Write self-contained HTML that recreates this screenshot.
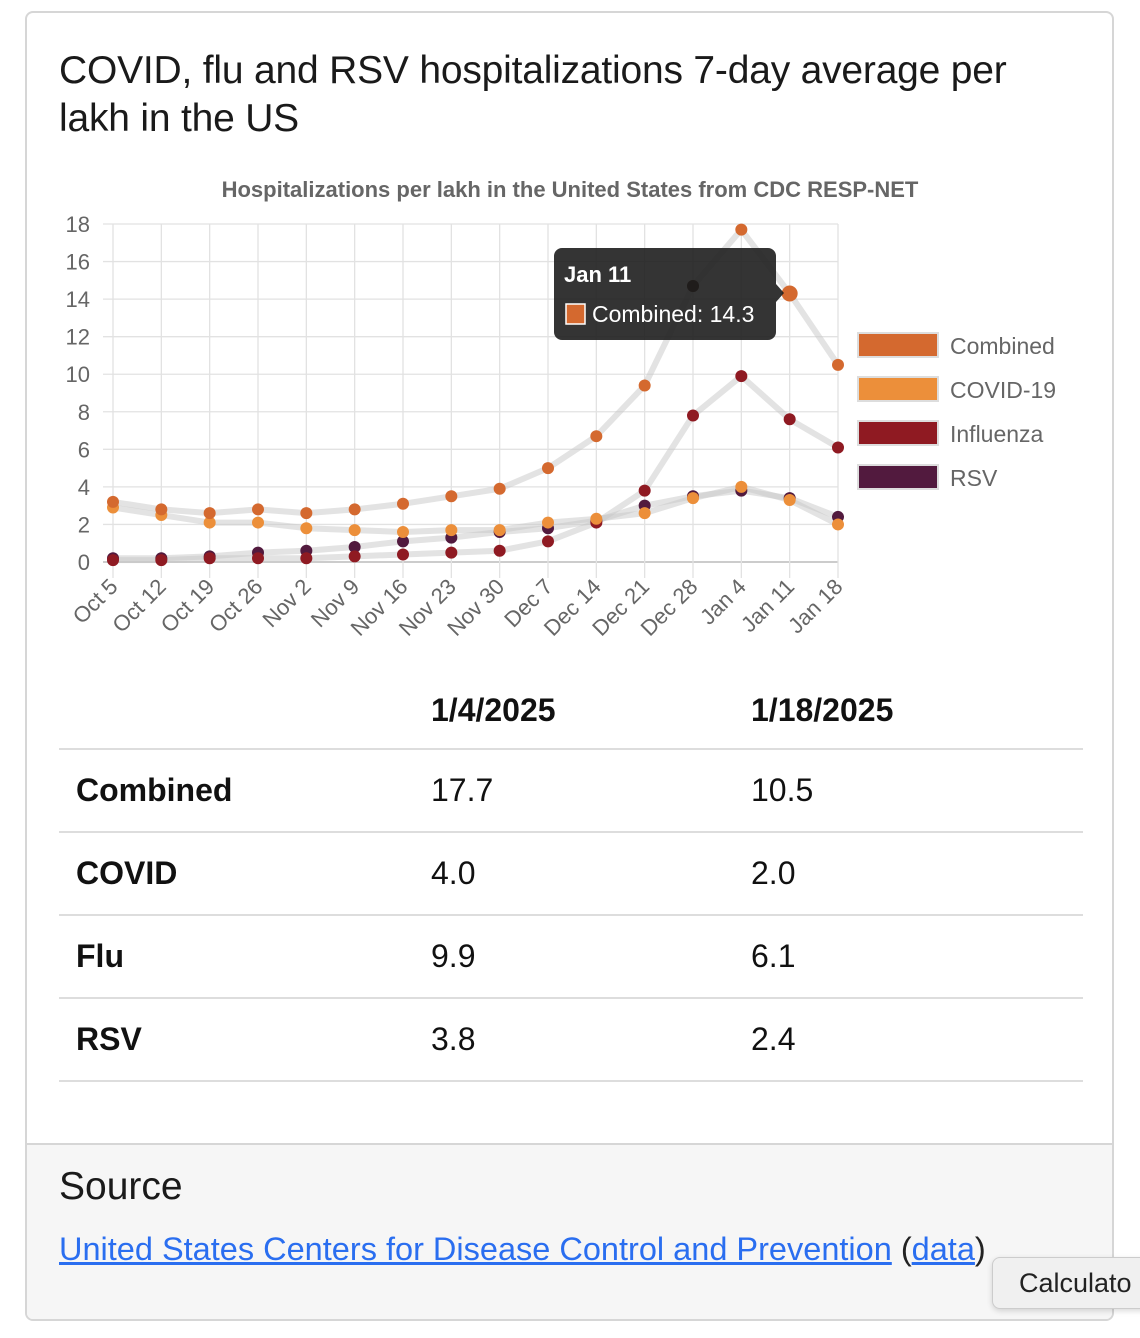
<!DOCTYPE html>
<html><head><meta charset="utf-8"><style>
body{margin:0;width:1140px;height:1338px;background:#fff;font-family:"Liberation Sans",Helvetica,Arial,sans-serif;position:relative;overflow:hidden}
.card{position:absolute;left:25px;top:11px;width:1089px;height:1310px;border:2px solid #d6d6d6;border-radius:8px;box-sizing:border-box;overflow:hidden;background:#fff}
h1{position:absolute;left:32px;top:34px;margin:0;font-size:39px;font-weight:normal;line-height:48px;color:#1a1a1a;width:990px;letter-spacing:-0.2px}
table{position:absolute;left:32px;top:659px;width:1024px;border-collapse:collapse;font-size:32px;color:#111}
td,th{height:81px;border-bottom:2px solid #ddd;text-align:left;padding:0}
th{font-weight:bold;height:76px}
td:first-child{padding-left:17px;font-weight:bold;width:355px}
td:nth-child(2){width:320px}
.foot{position:absolute;left:0;top:1130px;width:100%;height:200px;background:#f6f6f6;border-top:2px solid #d6d6d6}
.foot h2{position:absolute;left:32px;top:20px;margin:0;font-size:39px;font-weight:normal;color:#1a1a1a}
.foot p{position:absolute;left:32px;top:86px;margin:0;font-size:32.5px;color:#222}
a{color:#2a6ef0}
.calc{position:absolute;left:992px;top:1257px;width:160px;height:50px;background:#f0f0f0;border:1px solid #ccc;border-radius:8px;font-size:27px;line-height:50px;padding-left:26px;color:#222;box-shadow:0 2px 6px rgba(0,0,0,.15)}
</style></head><body>
<div class="card">
<h1>COVID, flu and RSV hospitalizations 7-day average per lakh in the US</h1>
<table>
<tr><th></th><th>1/4/2025</th><th>1/18/2025</th></tr>
<tr><td>Combined</td><td>17.7</td><td>10.5</td></tr>
<tr><td>COVID</td><td>4.0</td><td>2.0</td></tr>
<tr><td>Flu</td><td>9.9</td><td>6.1</td></tr>
<tr><td>RSV</td><td>3.8</td><td>2.4</td></tr>
</table>
<div class="foot"><h2>Source</h2><p><a href="#">United States Centers for Disease Control and Prevention</a> (<a href="#">data</a>)</p></div>
</div>
<svg id="c" width="1140" height="680" style="position:absolute;left:0;top:0" font-family="Liberation Sans, Arial, sans-serif"></svg>
<div class="calc">Calculato</div>
<script>
var s=document.getElementById('c'),h='';
var X0=113,DX=725/15,Y0=562,DY=338/18;
function x(i){return X0+i*DX} function y(v){return Y0-v*DY}
h+='<text x="570" y="197" text-anchor="middle" font-size="22" font-weight="bold" fill="#666">Hospitalizations per lakh in the United States from CDC RESP-NET</text>';
for(var v=0;v<=18;v+=2){h+='<line x1="103" x2="838" y1="'+y(v)+'" y2="'+y(v)+'" stroke="'+(v==0?'#ccc':'#e2e2e2')+'" stroke-width="'+(v==0?2:1.3)+'"/>';
h+='<text x="90" y="'+(y(v)+8)+'" text-anchor="end" font-size="22" fill="#666">'+v+'</text>';}
var L=['Oct 5','Oct 12','Oct 19','Oct 26','Nov 2','Nov 9','Nov 16','Nov 23','Nov 30','Dec 7','Dec 14','Dec 21','Dec 28','Jan 4','Jan 11','Jan 18'];
for(var i=0;i<16;i++){h+='<line x1="'+x(i)+'" x2="'+x(i)+'" y1="224" y2="578" stroke="#e2e2e2" stroke-width="1.3"/>';
h+='<text transform="translate('+(x(i)+6)+',588) rotate(-45)" text-anchor="end" font-size="22" fill="#666">'+L[i]+'</text>';}
var S=[
['#d4692f',[3.2,2.8,2.6,2.8,2.6,2.8,3.1,3.5,3.9,5.0,6.7,9.4,14.7,17.7,14.3,10.5]],
['#ec8f3a',[2.9,2.5,2.1,2.1,1.8,1.7,1.6,1.7,1.7,2.1,2.3,2.6,3.4,4.0,3.3,2.0]],
['#8f1a22',[0.1,0.1,0.2,0.2,0.2,0.3,0.4,0.5,0.6,1.1,2.1,3.8,7.8,9.9,7.6,6.1]],
['#521a3e',[0.2,0.2,0.3,0.5,0.6,0.8,1.1,1.3,1.6,1.8,2.2,3.0,3.5,3.8,3.4,2.4]]];
S.forEach(function(d){var p=d[1].map(function(v,i){return x(i)+','+y(v)}).join(' ');h+='<polyline points="'+p+'" fill="none" stroke="rgba(200,200,200,0.5)" stroke-width="6" stroke-linejoin="round"/>';});
[3,2,1,0].forEach(function(k){var d=S[k];d[1].forEach(function(v,i){h+='<circle cx="'+x(i)+'" cy="'+y(v)+'" r="6" fill="'+d[0]+'"/>';});});
h+='<circle cx="'+x(12)+'" cy="'+y(14.7)+'" r="6" fill="#2a1208"/>';
h+='<circle cx="'+x(14)+'" cy="'+y(14.3)+'" r="8" fill="#d4692f"/>';
h+='<path d="M562,248 h206 a8,8 0 0 1 8,8 v28 l8,9 l-8,9 v30 a8,8 0 0 1 -8,8 h-206 a8,8 0 0 1 -8,-8 v-76 a8,8 0 0 1 8,-8z" fill="rgba(30,30,30,0.9)"/>';
h+='<text x="564" y="282" font-size="22" font-weight="bold" fill="#fff">Jan 11</text>';
h+='<rect x="566" y="304" width="19" height="20" fill="#d4692f" stroke="#fff" stroke-width="1.5"/>';
h+='<text x="592" y="322" font-size="23" fill="#fff">Combined: 14.3</text>';
var LG=[['#d4692f','Combined'],['#ec8f3a','COVID-19'],['#8f1a22','Influenza'],['#521a3e','RSV']];
LG.forEach(function(l,i){var yy=333+i*44;h+='<rect x="858" y="'+yy+'" width="80" height="24" fill="'+l[0]+'" stroke="#ddd" stroke-width="2"/>';
h+='<text x="950" y="'+(yy+21)+'" font-size="23" fill="#666">'+l[1]+'</text>';});
s.innerHTML=h;
</script>
</body></html>
